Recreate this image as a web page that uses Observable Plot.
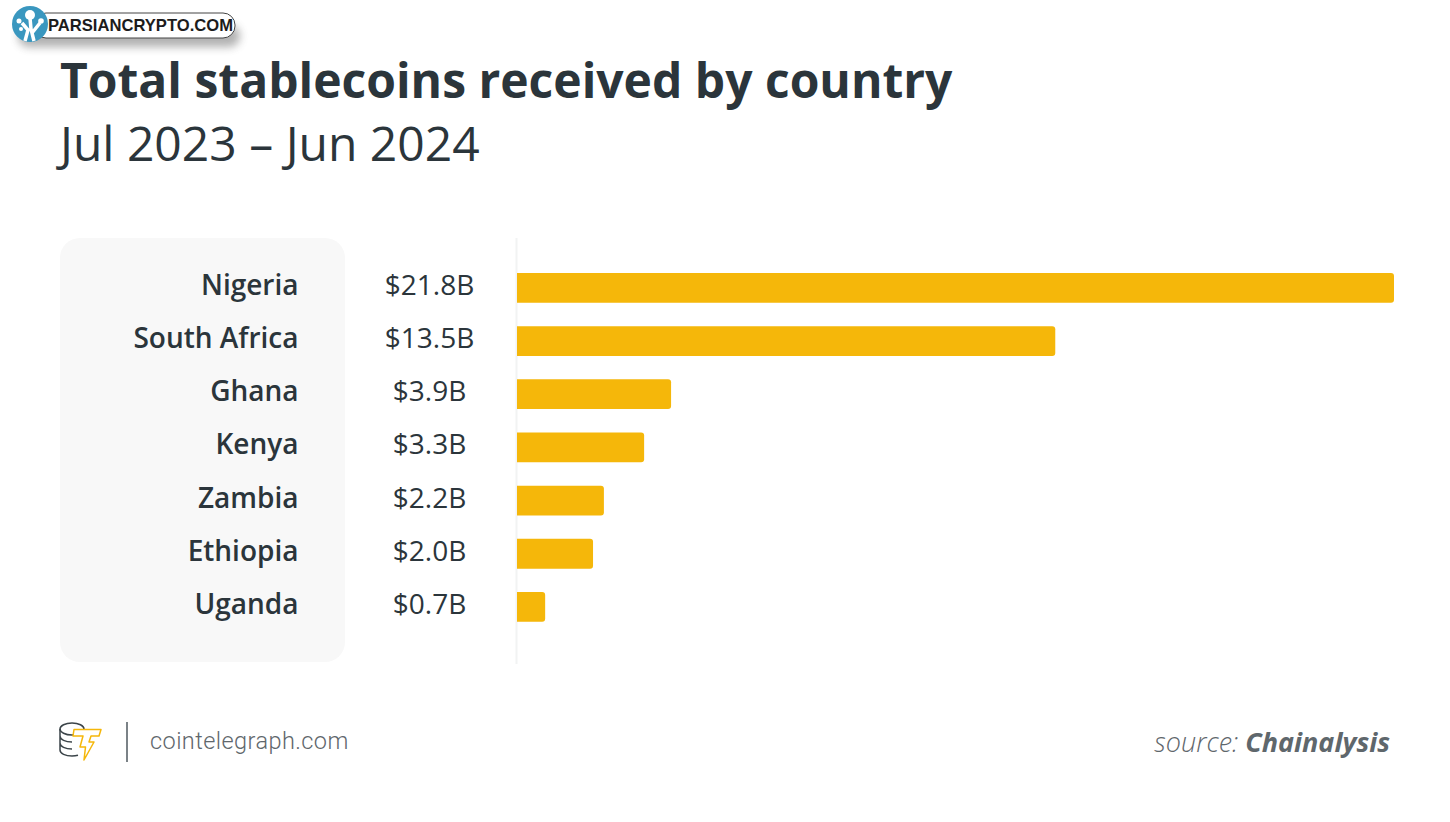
<!DOCTYPE html>
<html><head><meta charset="utf-8">
<script src="https://cdn.jsdelivr.net/npm/d3@7"></script>
<script src="https://cdn.jsdelivr.net/npm/@observablehq/plot@0.6"></script>
<style>
html,body{margin:0;padding:0;background:#fff;width:1450px;height:822px;overflow:hidden}
#page{position:relative;width:1450px;height:822px;font-family:"Open Sans",sans-serif;color:#2b353b}
#page>*{position:absolute}
#title{left:60px;top:47px;font-size:48px;font-weight:700;line-height:66px;white-space:nowrap;margin:0}
#subtitle{left:60px;top:110px;font-size:48px;font-weight:400;line-height:66px;white-space:nowrap;margin:0}
#panel{left:60px;top:238px;width:285px;height:424px;border-radius:20px;background:#f8f8f8}
#chart{left:0;top:238px}
#site{left:150px;top:726px;font-family:Roboto,sans-serif;font-weight:300;font-size:23.500px;line-height:30px;color:#5f676c;letter-spacing:.43px;white-space:nowrap}
#source{right:60px;top:723px;font-size:27px;line-height:38px;font-style:italic;font-weight:300;color:#5f676c;white-space:nowrap}
#source b{font-weight:700}
#badge{left:10px;top:3px}
#mark{left:58px;top:720px}
</style></head>
<body><div id="page">
<svg id="badge" width="240" height="56" viewBox="0 0 240 56">
  <defs><filter id="sh" x="-10%" y="-40%" width="120%" height="220%"><feGaussianBlur stdDeviation="4.500"/></filter></defs>
  <rect x="8" y="22" width="222" height="22" rx="11" fill="#555" opacity=".45" filter="url(#sh)"/>
  <rect x="24" y="10" width="201" height="25" rx="12" fill="#fff" stroke="#444" stroke-width="1"/>
  <circle cx="20" cy="21" r="18" fill="#3a97bf"/>
  <path d="M15 38 L18 27 L12 20 M24 38 L21 26 L20 15 M22 30 L30 20" stroke="#fff" stroke-width="3.500" fill="none"/>
  <circle cx="20" cy="12" r="5" fill="#fff"/><circle cx="9" cy="18" r="2.500" fill="#fff"/><circle cx="31" cy="18" r="2.800" fill="#fff"/><circle cx="11" cy="26" r="2" fill="#fff"/>
  <text x="38" y="28" font-family="Liberation Sans, sans-serif" font-weight="700" font-size="16.600" fill="#1c1c1c">PARSIANCRYPTO.COM</text>
</svg>
<h1 id="title">Total stablecoins received by country</h1>
<p id="subtitle">Jul 2023 – Jun 2024</p>
<div id="panel"></div>
<div id="chart"></div>
<svg id="mark" width="46" height="42" viewBox="0 0 46 42" fill="none">
  <g stroke="#3b4449" stroke-width="1.500">
    <ellipse cx="14" cy="9" rx="12" ry="6"/>
    <path d="M2 9v21c0 3.500 5.500 6 12 6 2 0 4-.2 6-.7M2 16c0 3.500 5.500 6 12 6M2 23c0 3.500 5.500 6 12 6"/>
  </g>
  <path d="M16 9.500H43L41 16H33L31 22H36L26 40L27.500 27H22L25 16H15Z" fill="#fff" stroke="#f5b70a" stroke-width="1.500" stroke-linejoin="round"/>
</svg>
<div id="mark-sep" style="left:126px;top:722px;width:2px;height:40px;background:#7b8287"></div>
<div id="site">cointelegraph.com</div>
<div id="source">source: <b>Chainalysis</b></div>
</div>
<script>
const countries = ["Nigeria","South Africa","Ghana","Kenya","Zambia","Ethiopia","Uganda"];
const amounts = [21.8,13.38,3.83,3.16,2.16,1.89,0.7];
const amountLabels = ["$21.8B","$13.5B","$3.9B","$3.3B","$2.2B","$2.0B","$0.7B"];
const rows = countries.map((c,i)=>({country:c,amount:amounts[i],label:amountLabels[i]}));

const plot = Plot.plot({
  width:1450, height:426,
  marginLeft:517, marginRight:56, marginTop:0, marginBottom:0,
  style:{background:"transparent",fontFamily:"'Open Sans',sans-serif",overflow:"visible"},
  x:{domain:[0,21.8],axis:null},
  y:{domain:countries,range:[23.3,395.5],paddingInner:.44,paddingOuter:.22,round:false,label:null},
  marks:[
    Plot.ruleX([0],{stroke:"#f2f3f3",strokeWidth:2,dx:-1}),
    Plot.barX(rows,{x:"amount",y:"country",fill:"#f5b70a",rx2:3}),
    Plot.axisY({anchor:"left",tickSize:0,tickPadding:219,fontSize:28,fontWeight:600,fill:"#2b353b",label:null,dy:-2.500}),
    Plot.text(rows,{x:0,y:"country",text:"label",dx:-88,dy:-2.500,textAnchor:"middle",fontSize:28,fill:"#2b353b"})
  ]
});
document.getElementById("chart").appendChild(plot);
</script>
</body></html>
